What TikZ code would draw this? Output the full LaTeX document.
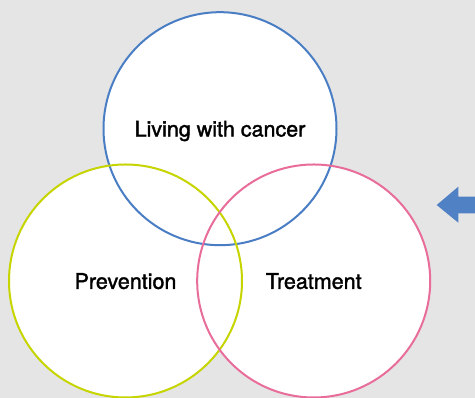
\documentclass[tikz,border=0pt]{standalone}
\usepackage{fontspec}
\setmainfont{TeX Gyre Heros}
\newfontfamily\labelfont{TeX Gyre Heros}[FakeBold=1.6]
\usetikzlibrary{positioning}

\definecolor{bggray}{HTML}{E5E5E5}
\definecolor{livblue}{HTML}{4A7EC4}
\definecolor{prevgreen}{HTML}{C6D400}
\definecolor{treatpink}{HTML}{E86D9A}
\definecolor{arrowblue}{HTML}{4F81C4}

\begin{document}
\begin{tikzpicture}[
  x=1pt, y=1pt,
  setcircle/.style={circle, draw, line width=2pt, minimum size=233pt, inner sep=0pt,
    text depth=0pt, font=\labelfont\fontsize{21.5}{24}\selectfont}
]
  \useasboundingbox (0,0) rectangle (475,398);
  \fill[bggray] (0,0) rectangle (475,398);

  % white discs first, so that every outline stays visible
  \foreach \cx/\cy in {220/269.3, 125.5/117, 313.7/117}
    \fill[white] (\cx,\cy) circle (116.5);

  \node (living) [setcircle, draw=livblue] at (220,269.3) {Living with cancer};
  \node (prevention) [setcircle, draw=prevgreen] at (125.5,117) {Prevention};
  \node (treatment) [setcircle, draw=treatpink] at (313.7,117) {Treatment};

  % arrow cut off by the right edge
  \fill[arrowblue] (436.7,193) -- (458.3,211.3) -- (458.3,201.3) -- (475,201.3)
    -- (475,184.7) -- (458.3,184.7) -- (458.3,175.3) -- cycle;

\end{tikzpicture}
\end{document}
